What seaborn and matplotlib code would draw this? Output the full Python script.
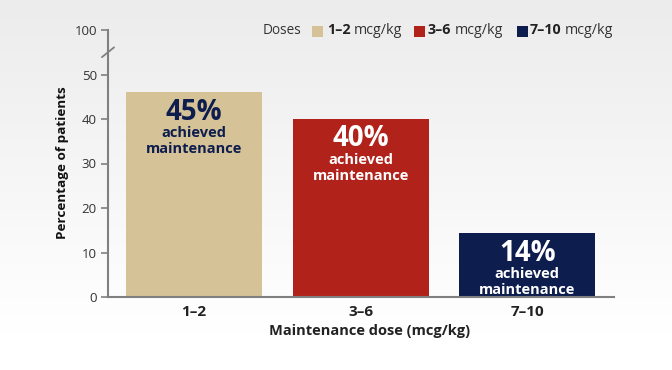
import numpy as np
import pandas as pd
import matplotlib
matplotlib.use("Agg")
import matplotlib.pyplot as plt
import seaborn as sns
from matplotlib.patches import Rectangle
import matplotlib.transforms as mtransforms

# ---- data ----
categories = ["1–2", "3–6", "7–10"]
values = [46, 40, 14.3]
pct_labels = ["45%", "40%", "14%"]
legend_labels = ["1–2", "3–6", "7–10"]
legend_unit = "mcg/kg"
y_ticks = [0, 10, 20, 30, 40, 50, 60]
y_tick_labels = ["0", "10", "20", "30", "40", "50", "100"]
bar_colors = ["#d5c297", "#b1221a", "#0d1d4d"]
text_colors = ["#0d1d4d", "#ffffff", "#ffffff"]

W, H = 672, 370
sns.set_theme(style="white")
plt.rcParams["font.family"] = ["Open Sans", "DejaVu Sans"]

fig = plt.figure(figsize=(W / 100, H / 100), dpi=100)

# background gradient
bg = fig.add_axes([0, 0, 1, 1], zorder=-10)
grad = np.linspace(0, 1, 256)[:, None]
top = np.array([236, 236, 236]) / 255
bot = np.array([255, 255, 255]) / 255
g = np.clip(grad / 0.9, 0, 1)
img = top[None, None, :] * (1 - g[..., None]) + bot[None, None, :] * g[..., None]
img = np.repeat(img, 2, axis=1)
bg.imshow(img, aspect="auto", extent=[0, 1, 0, 1], origin="upper")
bg.axis("off")

def px(x, y):
    return x / W, 1 - y / H

l, b = px(108, 297)
r, t = px(614, 30)
ax = fig.add_axes([l, b, r - l, t - b])
ax.set_facecolor("none")

df = pd.DataFrame({"dose": categories, "pct": values})
sns.barplot(data=df, x="dose", y="pct", hue="dose", palette=bar_colors,
            saturation=1, width=0.815, legend=False, ax=ax, edgecolor="none")

ax.set_xlim(-0.515, 2.52)
ax.set_ylim(0, 60)
ax.set_yticks(y_ticks)
ax.set_yticklabels(y_tick_labels, fontsize=9.5, color="#333333")
ax.tick_params(axis="y", length=5, width=1.2, color="#808080", pad=3, left=True)
ax.tick_params(axis="x", length=0, pad=6)
for lab in ax.get_xticklabels():
    lab.set_fontweight("bold")
    lab.set_fontsize(11)
    lab.set_color("#222222")

for s in ["top", "right"]:
    ax.spines[s].set_visible(False)
for s in ["left", "bottom"]:
    ax.spines[s].set_color("#808080")
    ax.spines[s].set_linewidth(1.5)

# axis break mark
trans = mtransforms.blended_transform_factory(ax.transAxes, ax.transData)
ax.plot([-0.012, 0.012], [53.9, 56.1], transform=trans, color="#808080",
        lw=1.3, clip_on=False)

ax.set_xlabel("Maintenance dose (mcg/kg)", fontsize=10.5, fontweight="bold",
              color="#222222")
ax.xaxis.set_label_coords((370 - 108) / 506, -(331 - 297) / 267, transform=ax.transAxes)
ax.xaxis.label.set_va("center")
ax.set_ylabel("Percentage of patients", fontsize=9.7, fontweight="bold",
              color="#111111")
ax.yaxis.set_label_coords(-(108 - 62) / 506, (297 - 163) / 267, transform=ax.transAxes)
ax.yaxis.label.set_va("center")

# in-bar annotations
for i, (v, p, tc) in enumerate(zip(values, pct_labels, text_colors)):
    ax.annotate(p, xy=(i, v), xytext=(0, -20), textcoords="offset pixels",
                ha="center", va="center", fontsize=20, fontweight="bold", color=tc)
    ax.annotate("achieved", xy=(i, v), xytext=(0, -41), textcoords="offset pixels",
                ha="center", va="center", fontsize=10.5, fontweight="bold", color=tc)
    ax.annotate("maintenance", xy=(i, v), xytext=(0, -57), textcoords="offset pixels",
                ha="center", va="center", fontsize=10.5, fontweight="bold", color=tc)

# legend
ly = 30
fig.text(*px(263, ly), "Doses", fontsize=9.8, color="#333333", va="center", ha="left")
patch_x = [312, 414, 517]
lab_x = [327, 428, 530]
renderer = fig.canvas.get_renderer()
for c, lab, x0, x1 in zip(bar_colors, legend_labels, patch_x, lab_x):
    fx, fy = px(x0, 37)
    fig.patches.append(Rectangle((fx, fy), 11 / W, 11 / H, transform=fig.transFigure,
                                 facecolor=c, edgecolor="none"))
    tb = fig.text(*px(x1, ly), lab, fontsize=10.3, fontweight="bold", color="#222222",
                  va="center", ha="left")
    ext = tb.get_window_extent(renderer)
    fig.text(*px(ext.x1 + 3, ly), legend_unit, fontsize=10.3, color="#333333",
             va="center", ha="left")

fig.savefig("out.png", dpi=100)
